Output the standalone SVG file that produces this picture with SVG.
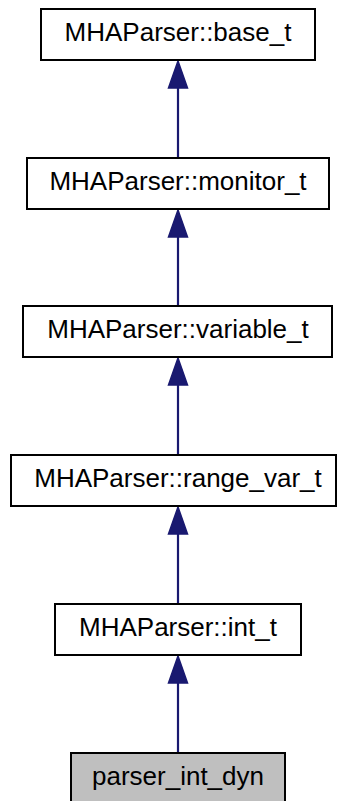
<svg xmlns="http://www.w3.org/2000/svg" width="337" height="801" viewBox="0 0 337 801">
<defs>
<style>
.node rect{fill:#ffffff;stroke:#000000;stroke-width:2}
.node.cur rect{fill:#bfbfbf}
.node text{font-family:"Liberation Sans",Arial,Helvetica,sans-serif;font-size:26px;fill:#000000;text-anchor:middle}
.edge line{stroke:#191970;stroke-width:2.2}
.edge polygon{fill:#191970;stroke:#191970;stroke-width:1.5}
</style>
</defs>
<rect width="337" height="801" fill="#ffffff"/>
<g id="connectors">
<g class="edge"><line x1="178" y1="158" x2="178" y2="88"/><polygon points="178,61 168.5,88 187.5,88"/></g>
<g class="edge"><line x1="178" y1="306" x2="178" y2="237"/><polygon points="178,210 168.5,237 187.5,237"/></g>
<g class="edge"><line x1="178" y1="455" x2="178" y2="385"/><polygon points="178,358 168.5,385 187.5,385"/></g>
<g class="edge"><line x1="178" y1="604" x2="178" y2="534"/><polygon points="178,507 168.5,534 187.5,534"/></g>
<g class="edge"><line x1="178" y1="753" x2="178" y2="683"/><polygon points="178,656 168.5,683 187.5,683"/></g>
</g>
<g id="node_base_t" class="node"><rect x="41" y="9" width="274" height="51"/><text x="178" y="41">MHAParser::base_t</text></g>
<g id="node_monitor_t" class="node"><rect x="27" y="158" width="302" height="51"/><text x="178" y="190">MHAParser::monitor_t</text></g>
<g id="node_variable_t" class="node"><rect x="23" y="306" width="309" height="51"/><text x="178" y="338">MHAParser::variable_t</text></g>
<g id="node_range_var_t" class="node"><rect x="11" y="455" width="325" height="51"/><text x="178" y="487">MHAParser::range_var_t</text></g>
<g id="node_int_t" class="node"><rect x="55" y="604" width="246" height="51"/><text x="178" y="636">MHAParser::int_t</text></g>
<g id="node_parser_int_dyn" class="node cur"><rect x="71" y="753" width="214" height="51"/><text x="178" y="785">parser_int_dyn</text></g>
</svg>
